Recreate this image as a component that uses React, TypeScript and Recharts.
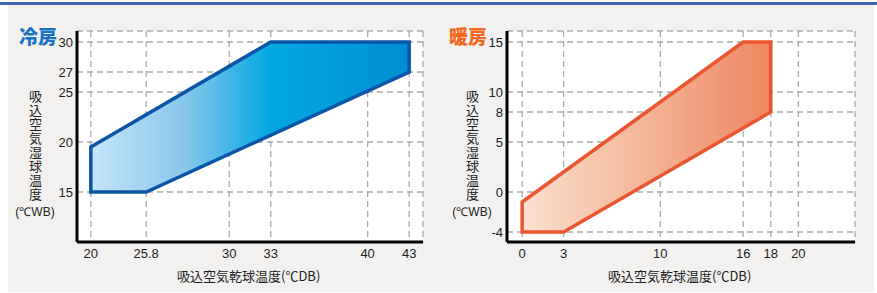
import { CartesianGrid, Scatter, ScatterChart, XAxis, YAxis } from "recharts";

const coolX = [20, 25.8, 43, 43, 33, 20];
const coolY = [15, 15, 27, 30, 30, 19.5];
const coolXTicks = [20, 25.8, 30, 33, 40, 43];
const coolYTicks = [15, 20, 25, 27, 30];
// the printed chart puts its 25.8 tick where 24 would sit: warp knots for the x scale
const coolWarpIn = [20, 25.8, 30];
const coolWarpOut = [20, 24, 30];

const heatX = [0, 3, 18, 18, 16, 0];
const heatY = [-4, -4, 8, 15, 15, -1];
const heatXTicks = [0, 3, 10, 16, 18, 20];
const heatYTicks = [-4, 0, 5, 8, 10, 15];

const yLabel = "吸込空気湿球温度";
const xLabel = "吸込空気乾球温度(℃DB)";
const yUnit = "(℃WB)";

const tickFont = { fontSize: 13, fill: "#222", fontFamily: "'Liberation Sans', Arial, sans-serif" };
const jpFont = "'Noto Sans CJK JP', sans-serif";

// piecewise-linear scale with the d3 interface recharts expects
function warpScale(kin: number[], kout: number[]): any {
  let dom = [0, 1];
  let rng = [0, 1];
  const warp = (v: number) => {
    if (v <= kin[0]) return kout[0] + (v - kin[0]);
    for (let i = 1; i < kin.length; i++) {
      if (v <= kin[i]) return kout[i - 1] + ((v - kin[i - 1]) / (kin[i] - kin[i - 1])) * (kout[i] - kout[i - 1]);
    }
    return kout[kout.length - 1] + (v - kin[kin.length - 1]);
  };
  const s: any = (v: number) => {
    const a = warp(dom[0]);
    const b = warp(dom[dom.length - 1]);
    return rng[0] + ((warp(v) - a) / (b - a)) * (rng[rng.length - 1] - rng[0]);
  };
  s.domain = (d?: number[]) => (d === undefined ? dom.slice() : ((dom = d.map(Number)), s));
  s.range = (r?: number[]) => (r === undefined ? rng.slice() : ((rng = r.map(Number)), s));
  s.copy = () => warpScale(kin, kout).domain(dom).range(rng);
  s.ticks = (n = 5) => {
    const out: number[] = [];
    const step = (dom[1] - dom[0]) / n;
    for (let i = 0; i <= n; i++) out.push(dom[0] + i * step);
    return out;
  };
  s.tickFormat = () => (v: number) => String(v);
  s.clamp = () => s;
  s.nice = () => s;
  return s;
}

type Stop = { off: string; color: string };

function Region(p: { points?: { x: number; y: number }[]; id: string; stops: Stop[]; stroke: string }) {
  const pts = (p.points ?? []).map((q) => `${q.x},${q.y}`).join(" ");
  return (
    <g>
      <defs>
        <linearGradient id={p.id} x1="0" y1="0" x2="1" y2="0">
          {p.stops.map((s) => (
            <stop key={s.off} offset={s.off} stopColor={s.color} />
          ))}
        </linearGradient>
      </defs>
      <polygon points={pts} fill={`url(#${p.id})`} stroke={p.stroke} strokeWidth={3.5} strokeLinejoin="miter" />
    </g>
  );
}

type PanelProps = {
  xs: number[];
  ys: number[];
  xTicks: number[];
  yTicks: number[];
  xDomain: [number, number];
  yDomain: [number, number];
  xScale?: any;
  width: number;
  right: number;
  id: string;
  stops: Stop[];
  stroke: string;
};

function Panel(p: PanelProps) {
  const data = p.xs.map((x, i) => ({ x, y: p.ys[i] }));
  return (
    <ScatterChart width={p.width} height={293} margin={{ top: 31, right: p.right, bottom: 31, left: 47 }}>
      <CartesianGrid fill="#fff" stroke="#aaa" strokeWidth={1.3} strokeDasharray="6 4" />
      <XAxis
        type="number"
        dataKey="x"
        domain={p.xDomain}
        ticks={p.xTicks}
        scale={p.xScale ?? "linear"}
        interval={0}
        allowDataOverflow
        height={20}
        tickSize={0}
        tickMargin={7}
        tickLine={false}
        axisLine={{ stroke: "#000", strokeWidth: 3 }}
        tick={tickFont}
      />
      <YAxis
        type="number"
        dataKey="y"
        domain={p.yDomain}
        ticks={p.yTicks}
        interval={0}
        allowDataOverflow
        width={30}
        tickSize={0}
        tickMargin={4}
        tickLine={false}
        axisLine={{ stroke: "#000", strokeWidth: 3 }}
        tick={tickFont}
      />
      <Scatter
        data={data}
        isAnimationActive={false}
        shape={() => <g />}
        line={(lp: any) => <Region points={lp.points} id={p.id} stops={p.stops} stroke={p.stroke} />}
        lineType="joint"
      />
    </ScatterChart>
  );
}

function YLabel({ center }: { center: number }) {
  return (
    <>
      <div
        style={{
          position: "absolute",
          left: center - 8,
          top: 90,
          width: 16,
          writingMode: "vertical-rl",
          lineHeight: "16px",
          fontFamily: jpFont,
          fontSize: 13,
          letterSpacing: 1,
          color: "#222",
        }}
      >
        {yLabel}
      </div>
      <div
        style={{
          position: "absolute",
          left: center - 25,
          top: 203,
          width: 50,
          textAlign: "center",
          fontFamily: "'Liberation Sans', Arial, sans-serif",
          fontSize: 12,
          color: "#222",
          whiteSpace: "nowrap",
        }}
      >
        {yUnit}
      </div>
    </>
  );
}

export default function App() {
  return (
    <div style={{ position: "absolute", left: 0, top: 0, width: 877, height: 293, background: "#fff", overflow: "hidden" }}>
      <div style={{ position: "absolute", left: 0, top: 2, width: 877, height: 3, background: "#4163ad" }} />
      <div style={{ position: "absolute", left: 8, top: 5, width: 866, height: 287, background: "#f2f1ef" }} />
      <div style={{ position: "absolute", left: 0, top: 0 }}>
        <Panel
          xs={coolX}
          ys={coolY}
          xTicks={coolXTicks}
          yTicks={coolYTicks}
          xDomain={[19, 44]}
          yDomain={[10, 31.1]}
          xScale={warpScale(coolWarpIn, coolWarpOut)}
          width={430}
          right={7}
          id="coolGrad"
          stroke="#0a55a5"
          stops={[
            { off: "0%", color: "#c6e5f8" },
            { off: "30%", color: "#86c6ec" },
            { off: "57%", color: "#00a7e1" },
            { off: "100%", color: "#008ed4" },
          ]}
        />
      </div>
      <div style={{ position: "absolute", left: 430, top: 0 }}>
        <Panel
          xs={heatX}
          ys={heatY}
          xTicks={heatXTicks}
          yTicks={heatYTicks}
          xDomain={[-1.1, 24.1]}
          yDomain={[-5, 16.1]}
          width={447}
          right={22}
          id="heatGrad"
          stroke="#e9562f"
          stops={[
            { off: "0%", color: "#fbe0d1" },
            { off: "50%", color: "#f4b497" },
            { off: "100%", color: "#ee8660" },
          ]}
        />
      </div>
      <div style={{ position: "absolute", left: 19, top: 25, fontFamily: jpFont, fontWeight: 900, fontSize: 19, color: "#1a72c4", lineHeight: "22px" }}>
        冷房
      </div>
      <div style={{ position: "absolute", left: 449, top: 25, fontFamily: jpFont, fontWeight: 900, fontSize: 19, color: "#f26a22", lineHeight: "22px" }}>
        暖房
      </div>
      <YLabel center={35} />
      <YLabel center={472} />
      <div style={{ position: "absolute", left: 177, top: 266, fontFamily: jpFont, fontSize: 13, color: "#222", whiteSpace: "nowrap" }}>{xLabel}</div>
      <div style={{ position: "absolute", left: 608, top: 266, fontFamily: jpFont, fontSize: 13, color: "#222", whiteSpace: "nowrap" }}>{xLabel}</div>
    </div>
  );
}
